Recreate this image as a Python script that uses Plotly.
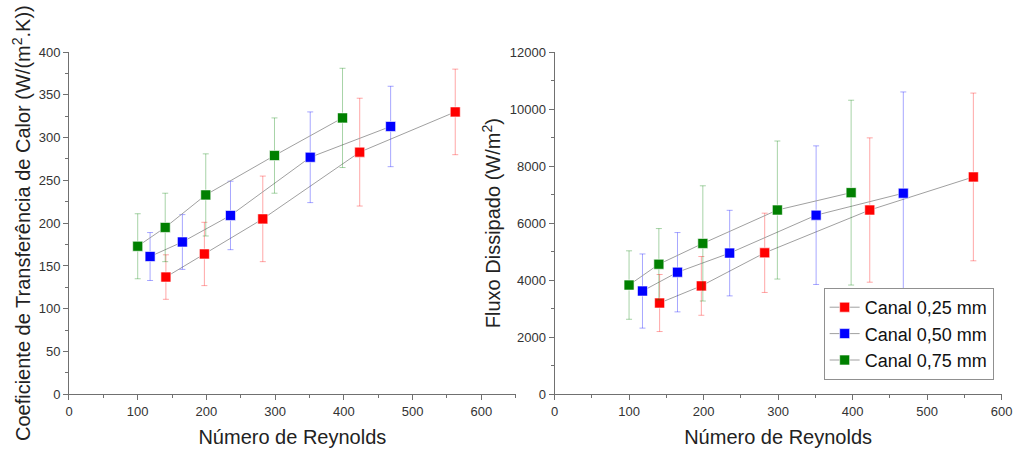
import plotly.graph_objects as go

# ---- data ----
labels = ["Canal 0,25 mm", "Canal 0,50 mm", "Canal 0,75 mm"]
colors = ["#ff0000", "#0000ff", "#008000"]
err_colors = ["rgba(255,0,0,0.35)", "rgba(0,0,255,0.35)", "rgba(0,128,0,0.35)"]

re_025 = [141, 197, 282, 423, 562]
re_050 = [118, 165, 235, 351, 468]
re_075 = [100, 140, 199, 299, 398]

h_025 = [137, 164, 205, 283, 330]
h_050 = [161, 178, 209, 277, 313]
h_075 = [173, 195, 233, 279, 323]
h_err_025 = [26, 37, 50, 63, 50]
h_err_050 = [28, 32, 40, 53, 47]
h_err_075 = [38, 40, 48, 44, 58]

q_025 = [3200, 3800, 4960, 6460, 7620]
q_050 = [3620, 4280, 4950, 6280, 7050]
q_075 = [3830, 4560, 5290, 6460, 7070]
q_err_025 = [1000, 1030, 1390, 2530, 2940]
q_err_050 = [1300, 1390, 1500, 2430, 3550]
q_err_075 = [1200, 1250, 2020, 2420, 3240]

re_all = [re_025, re_050, re_075]
h_all = [h_025, h_050, h_075]
he_all = [h_err_025, h_err_050, h_err_075]
q_all = [q_025, q_050, q_075]
qe_all = [q_err_025, q_err_050, q_err_075]

FONT = "Arial, Liberation Sans, sans-serif"

fig = go.Figure()
for i in range(3):
    fig.add_trace(go.Scatter(
        x=re_all[i], y=h_all[i], mode="lines+markers", name=labels[i],
        showlegend=False, xaxis="x", yaxis="y",
        line=dict(color="#a0a0a0", width=1),
        marker=dict(symbol="square", size=10, color=colors[i],
                    line=dict(color="rgba(255,255,255,0.6)", width=1)),
        error_y=dict(type="data", array=he_all[i], visible=True,
                     color=err_colors[i], thickness=1, width=3),
    ))
for i in range(3):
    fig.add_trace(go.Scatter(
        x=re_all[i], y=q_all[i], mode="lines+markers", name=labels[i],
        showlegend=True, xaxis="x2", yaxis="y2",
        line=dict(color="#a0a0a0", width=1),
        marker=dict(symbol="square", size=10, color=colors[i],
                    line=dict(color="rgba(255,255,255,0.6)", width=1)),
        error_y=dict(type="data", array=qe_all[i], visible=True,
                     color=err_colors[i], thickness=1, width=3),
    ))

axis_common = dict(
    showline=True, linecolor="#707070", linewidth=1,
    ticks="outside", ticklen=5, tickcolor="#707070",
    showgrid=False, zeroline=False, automargin=False,
    tickfont=dict(family=FONT, size=13, color="#333333"),
    title_font=dict(family=FONT, size=20, color="#222222"),
)
minor_x = dict(dtick=50, ticklen=3, tickcolor="#707070", ticks="outside")

fig.update_layout(
    width=1016, height=450,
    margin=dict(l=0, r=0, t=0, b=0),
    paper_bgcolor="white", plot_bgcolor="white",
    font=dict(family=FONT),
    xaxis=dict(domain=[0.0679, 0.5076], range=[0, 650], tickvals=[0, 100, 200, 300, 400, 500, 600],
               minor=minor_x, title=dict(text="Número de Reynolds", standoff=12), anchor="y", **axis_common),
    yaxis=dict(domain=[0.1238, 0.8844], range=[0, 400], dtick=50,
               minor=dict(dtick=25, ticklen=3, tickcolor="#707070", ticks="outside"),
               title=dict(text="Coeficiente de Transferência de Calor (W/(m<sup>2</sup>.K))", standoff=2),
               anchor="x", **axis_common),
    xaxis2=dict(domain=[0.5458, 0.9859], range=[0, 600], dtick=100,
                minor=minor_x, title=dict(text="Número de Reynolds", standoff=12), anchor="y2", **axis_common),
    yaxis2=dict(domain=[0.1238, 0.8844], range=[0, 12000], dtick=2000, tickformat="d",
                minor=dict(dtick=1000, ticklen=3, tickcolor="#707070", ticks="outside"),
                title=dict(text="Fluxo Dissipado (W/m<sup>2</sup>)", standoff=3),
                anchor="x2", **axis_common),
    legend=dict(x=0.978, y=0.36, xanchor="right", yanchor="top",
                bgcolor="white", bordercolor="#909090", borderwidth=1,
                font=dict(family=FONT, size=18, color="#111111"),
                tracegroupgap=0),
)

fig.write_html("out.html", config={"displayModeBar": False},
               post_script="document.body.style.margin='0';")
